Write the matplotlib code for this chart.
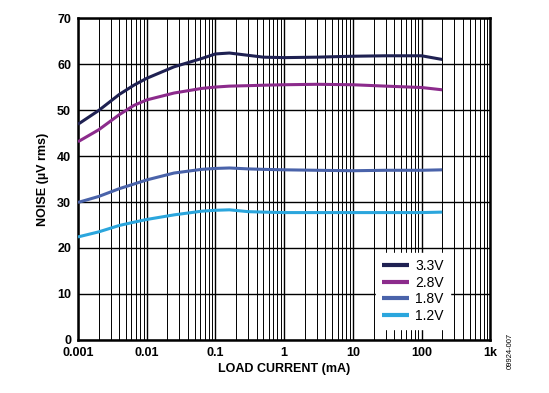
import matplotlib.pyplot as plt
from matplotlib.ticker import LogLocator, FixedLocator

# Load current (mA) sample points
current = [0.001, 0.002, 0.004, 0.0065, 0.01, 0.025, 0.063, 0.1, 0.16, 0.3, 0.5, 1, 3, 10, 30, 100, 200]

noise_33 = [46.9, 49.9, 53.4, 55.4, 56.9, 59.4, 61.2, 62.2, 62.4, 61.9, 61.5, 61.4, 61.5, 61.7, 61.8, 61.8, 61.0]
noise_28 = [43.1, 45.7, 49.0, 51.0, 52.2, 53.7, 54.7, 55.0, 55.2, 55.3, 55.4, 55.5, 55.6, 55.5, 55.2, 54.9, 54.4]
noise_18 = [29.9, 31.2, 32.9, 33.9, 34.8, 36.3, 37.1, 37.3, 37.4, 37.2, 37.1, 37.0, 36.9, 36.8, 36.9, 36.9, 37.0]
noise_12 = [22.4, 23.5, 24.9, 25.6, 26.2, 27.2, 28.0, 28.2, 28.3, 27.9, 27.8, 27.7, 27.7, 27.7, 27.7, 27.7, 27.8]

series_labels = ["3.3V", "2.8V", "1.8V", "1.2V"]
x_ticks = [0.001, 0.01, 0.1, 1, 10, 100, 1000]
x_tick_labels = ["0.001", "0.01", "0.1", "1", "10", "100", "1k"]

plt.rcParams["font.family"] = ["Liberation Sans", "DejaVu Sans"]

fig = plt.figure(figsize=(5.49, 3.93), dpi=100)
ax = fig.add_axes([0.142, 0.135, 0.751, 0.819])

colors = ["#1f2152", "#8c2b8c", "#4a63aa", "#2ba6dd"]
for y, lab, c in zip([noise_33, noise_28, noise_18, noise_12], series_labels, colors):
    ax.plot(current, y, color=c, lw=2.2, label=lab, zorder=3, solid_capstyle="butt")

ax.set_xscale("log")
ax.set_xlim(0.001, 1000)
ax.set_ylim(0, 70)
ax.xaxis.set_major_locator(FixedLocator(x_ticks))
ax.xaxis.set_minor_locator(LogLocator(base=10, subs=range(2, 10), numticks=20))
ax.set_xticklabels(x_tick_labels)
ax.set_yticks(range(0, 71, 10))

ax.grid(True, which="major", axis="both", color="black", lw=1.0)
ax.grid(True, which="minor", axis="x", color="black", lw=0.7)
ax.tick_params(which="both", length=0, labelsize=9, pad=5)
for lab in ax.get_xticklabels() + ax.get_yticklabels():
    lab.set_fontweight("bold")
for s in ax.spines.values():
    s.set_linewidth(1.8)

ax.set_xlabel("LOAD CURRENT (mA)", fontsize=9, fontweight="bold", labelpad=3)
ax.set_ylabel("NOISE (µV rms)", fontsize=9, fontweight="bold", labelpad=6)

leg = ax.legend(loc="lower right", bbox_to_anchor=(0.92, 0.013), frameon=True,
                fancybox=False, edgecolor="white", framealpha=1.0, fontsize=10,
                handlelength=1.9, handletextpad=0.5, labelspacing=0.18, borderpad=0.45)
for line in leg.get_lines():
    line.set_linewidth(3)
leg.set_zorder(5)

fig.text(0.93, 0.06, "09924-007", rotation=90, fontsize=5.5, ha="center", va="bottom")

plt.savefig("out.png", dpi=100)
plt.close()
